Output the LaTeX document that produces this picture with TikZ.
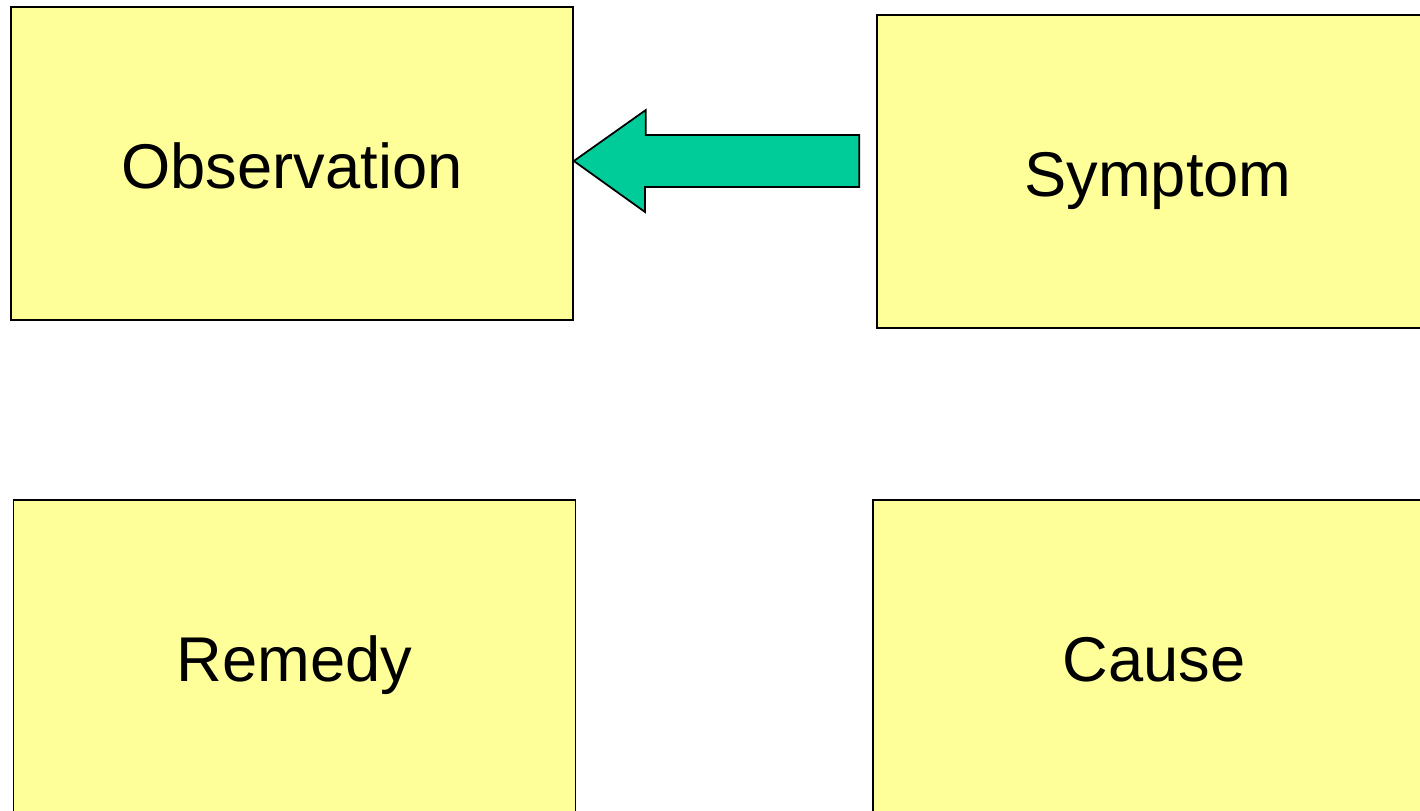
\documentclass[tikz,border=0pt]{standalone}
\usepackage{fontspec}
\setmainfont{Liberation Sans}
\definecolor{boxyellow}{HTML}{FFFF99}
\definecolor{arrowgreen}{HTML}{00CC99}
\begin{document}
\begin{tikzpicture}[x=0.02cm, y=-0.02cm,
    box/.style={draw, line width=1pt, fill=boxyellow, minimum width=11.24cm, minimum height=6.26cm, inner sep=0pt, text height=1cm, text depth=0cm, font=\fontsize{36}{42}\selectfont}]
            \useasboundingbox (0,0) rectangle (1420,811);
            \clip (0,0) rectangle (1420,811);
            \node[box] (obs) at (292,163.5) {Observation};
            \node[box] (sym) at (1158,171.5) {Symptom};
            \node[box] (rem) at (294.5,656.5) {Remedy};
            \node[box] (cau) at (1154,656.5) {Cause};
            \draw[fill=arrowgreen, line width=1pt, line join=miter] (obs.east |- 0,161) coordinate (tip) -- ++(72,-51) -- ++(0,25) -- ([xshift=-0.34cm]sym.west |- 0,135) -- ([xshift=-0.34cm]sym.west |- 0,187) -- (645,187) -- (645,212) -- cycle;
        \end{tikzpicture}
\end{document}
